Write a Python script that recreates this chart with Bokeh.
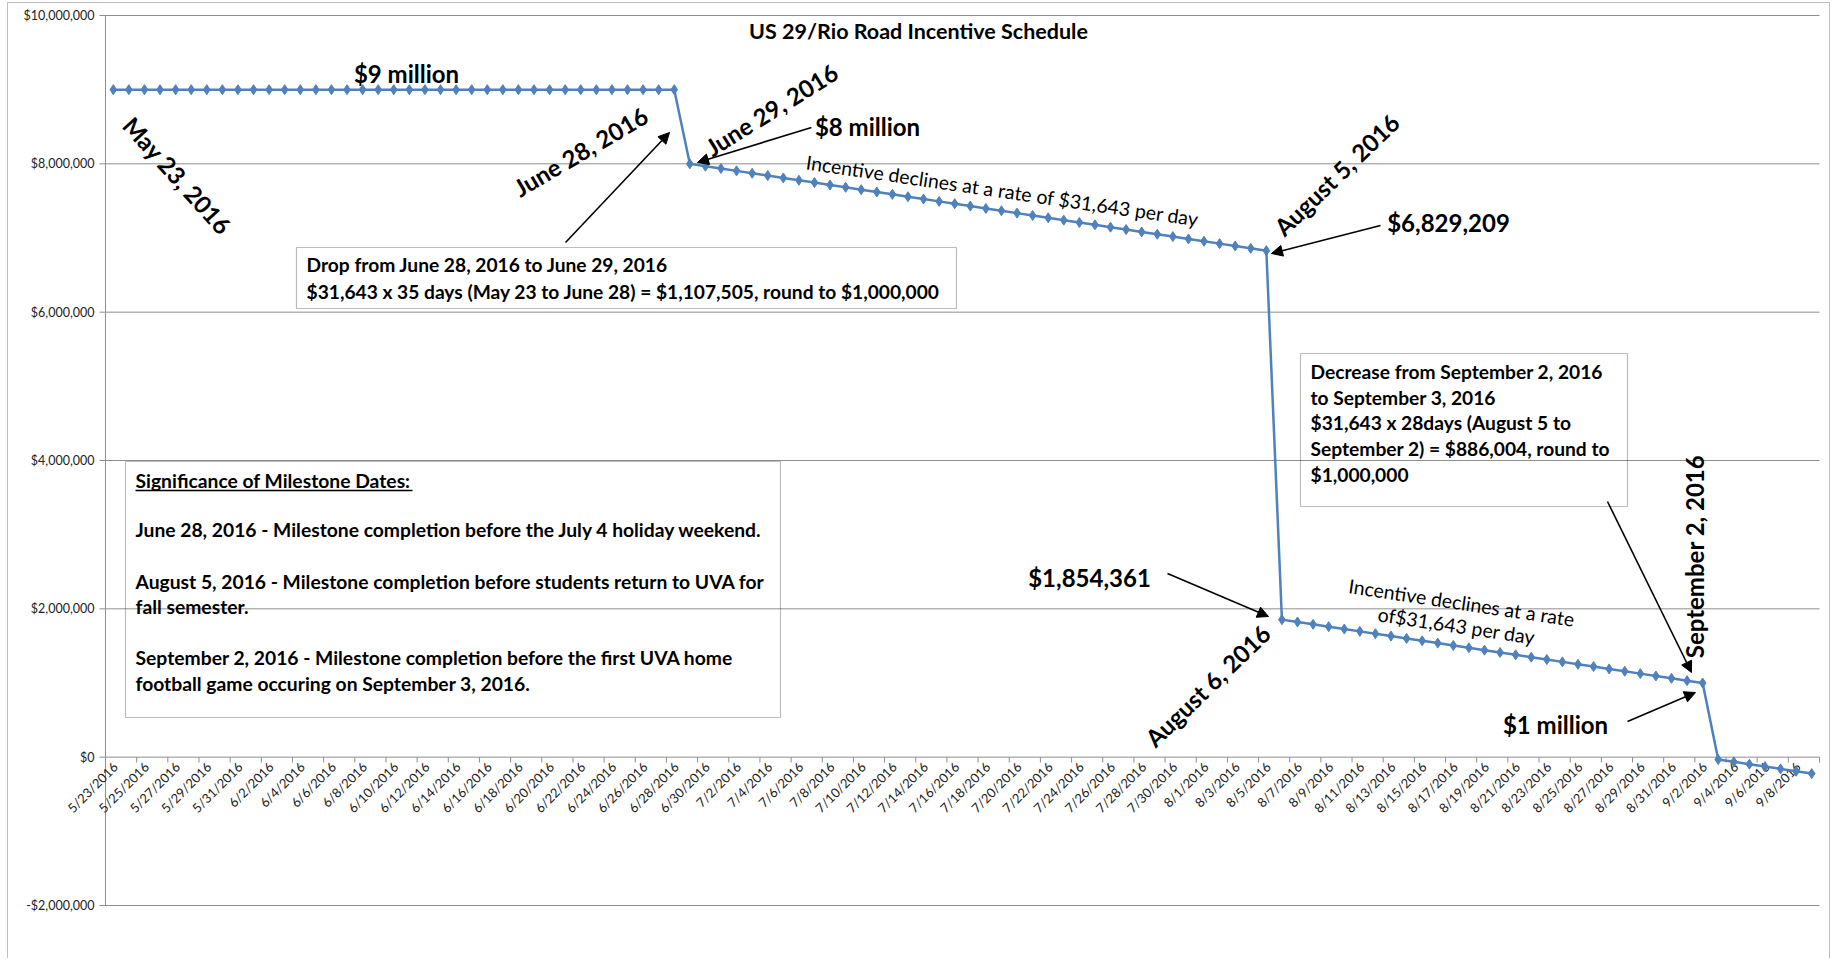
import math
from bokeh.plotting import figure
from bokeh.models import Range1d, Label, Arrow, NormalHead, BoxAnnotation
from bokeh.core.properties import value
from bokeh.embed import file_html
from bokeh.resources import INLINE

# ---------------- data ----------------
dates = [
    "5/23/2016", "5/24/2016", "5/25/2016", "5/26/2016", "5/27/2016", "5/28/2016", "5/29/2016",
    "5/30/2016", "5/31/2016", "6/1/2016", "6/2/2016", "6/3/2016", "6/4/2016", "6/5/2016",
    "6/6/2016", "6/7/2016", "6/8/2016", "6/9/2016", "6/10/2016", "6/11/2016", "6/12/2016",
    "6/13/2016", "6/14/2016", "6/15/2016", "6/16/2016", "6/17/2016", "6/18/2016", "6/19/2016",
    "6/20/2016", "6/21/2016", "6/22/2016", "6/23/2016", "6/24/2016", "6/25/2016", "6/26/2016",
    "6/27/2016", "6/28/2016", "6/29/2016", "6/30/2016", "7/1/2016", "7/2/2016", "7/3/2016",
    "7/4/2016", "7/5/2016", "7/6/2016", "7/7/2016", "7/8/2016", "7/9/2016", "7/10/2016",
    "7/11/2016", "7/12/2016", "7/13/2016", "7/14/2016", "7/15/2016", "7/16/2016", "7/17/2016",
    "7/18/2016", "7/19/2016", "7/20/2016", "7/21/2016", "7/22/2016", "7/23/2016", "7/24/2016",
    "7/25/2016", "7/26/2016", "7/27/2016", "7/28/2016", "7/29/2016", "7/30/2016", "7/31/2016",
    "8/1/2016", "8/2/2016", "8/3/2016", "8/4/2016", "8/5/2016", "8/6/2016", "8/7/2016",
    "8/8/2016", "8/9/2016", "8/10/2016", "8/11/2016", "8/12/2016", "8/13/2016", "8/14/2016",
    "8/15/2016", "8/16/2016", "8/17/2016", "8/18/2016", "8/19/2016", "8/20/2016", "8/21/2016",
    "8/22/2016", "8/23/2016", "8/24/2016", "8/25/2016", "8/26/2016", "8/27/2016", "8/28/2016",
    "8/29/2016", "8/30/2016", "8/31/2016", "9/1/2016", "9/2/2016", "9/3/2016", "9/4/2016",
    "9/5/2016", "9/6/2016", "9/7/2016", "9/8/2016", "9/9/2016",
]

incentive = [
    # 5/23 - 6/28
    9000000, 9000000, 9000000, 9000000, 9000000, 9000000, 9000000, 9000000, 9000000, 9000000,
    9000000, 9000000, 9000000, 9000000, 9000000, 9000000, 9000000, 9000000, 9000000, 9000000,
    9000000, 9000000, 9000000, 9000000, 9000000, 9000000, 9000000, 9000000, 9000000, 9000000,
    9000000, 9000000, 9000000, 9000000, 9000000, 9000000, 9000000,
    # 6/29 - 8/5
    8000000, 7968357, 7936714, 7905071, 7873428, 7841785, 7810142, 7778499, 7746856, 7715213,
    7683570, 7651927, 7620284, 7588641, 7556998, 7525355, 7493712, 7462069, 7430426, 7398783,
    7367140, 7335497, 7303854, 7272211, 7240568, 7208925, 7177282, 7145639, 7113996, 7082353,
    7050710, 7019067, 6987424, 6955781, 6924138, 6892495, 6860852, 6829209,
    # 8/6 - 9/2
    1854361, 1822718, 1791075, 1759432, 1727789, 1696146, 1664503, 1632860, 1601217, 1569574,
    1537931, 1506288, 1474645, 1443002, 1411359, 1379716, 1348073, 1316430, 1284787, 1253144,
    1221501, 1189858, 1158215, 1126572, 1094929, 1063286, 1031643, 1000000,
    # 9/3 - 9/9
    -31643, -63286, -94929, -126572, -158215, -189858, -221501,
]

y_ticks = [-2000000, 0, 2000000, 4000000, 6000000, 8000000, 10000000]
y_tick_labels = ["-$2,000,000", "$0", "$2,000,000", "$4,000,000", "$6,000,000",
                 "$8,000,000", "$10,000,000"]
tick_labels = dates[::2]

title_text = "US 29/Rio Road Incentive Schedule"
box1_lines = ["Drop from June 28, 2016 to June 29, 2016",
              "$31,643 x 35 days (May 23 to June 28) = $1,107,505, round to $1,000,000"]
box2_heading = "Significance of Milestone Dates:"
box2_lines = ["June 28, 2016 - Milestone completion before the July 4 holiday weekend.",
              "August 5, 2016 - Milestone completion before students return to UVA for",
              "fall semester.",
              "September 2, 2016 - Milestone completion before the first UVA home",
              "football game occuring on September 3, 2016."]
box3_lines = ["Decrease from September 2, 2016",
              "to September 3, 2016",
              "$31,643 x 28days (August 5 to",
              "September 2) = $886,004, round to",
              "$1,000,000"]

# ---------------- layout helpers (page pixel -> data) ----------------
N = len(dates)
AX_L, FT, FW, FH = 105.0, 15.0, 1714.0, 890.0   # plotting area in page px
YMIN, YMAX = -2000000, 10000000
PPX = FW / N
CANVAS_L, CANVAS_T, CANVAS_W, CANVAS_H = 8.0, 3.0, 1823, 956


def X(px):
    return (px - AX_L) / PPX - 0.5


def Y(py):
    return YMAX - (py - FT) / FH * (YMAX - YMIN)


FONT = "Lato"
BLUE = "#4F81BD"
GRID = "#8E8E8E"
TXT = "#222222"

# canvas placed at page (7, 2) with a 1px border, content starts at (8, 3);
# the frame covers the whole canvas so that axis texts are not clipped
p = figure(width=CANVAS_W, height=CANVAS_H, output_backend="svg", toolbar_location=None,
           x_range=Range1d(X(CANVAS_L), X(CANVAS_L + CANVAS_W)),
           y_range=Range1d(Y(CANVAS_T + CANVAS_H), Y(CANVAS_T)),
           x_axis_type=None, y_axis_type=None, min_border_left=0, min_border_right=0,
           min_border_top=0, min_border_bottom=0)
p.outline_line_color = None
p.background_fill_color = "white"
p.border_fill_color = "white"
p.xgrid.visible = False
p.ygrid.visible = False
p.styles = {"margin-left": "7px", "margin-top": "2px",
            "border-left": "1px solid #BFBFBF", "border-top": "1px solid #BFBFBF",
            "border-right": "1px solid #BFBFBF"}

# value axis: gridlines, tick marks, axis line, labels
nt = len(y_ticks)
p.segment(x0=[X(AX_L - 6)] * nt, y0=y_ticks, x1=[N - 0.5] * nt, y1=y_ticks,
          line_color=GRID, line_width=1)
p.segment(x0=[-0.5], y0=[YMIN], x1=[-0.5], y1=[YMAX], line_color=GRID, line_width=1)
p.text(x=[X(AX_L - 11)] * nt, y=y_ticks, text=y_tick_labels, text_align="right",
       text_baseline="middle", text_font=value(FONT), text_font_size="12.5px",
       text_color=TXT)

# category axis along the zero line: tick marks and rotated labels
tick_x = [k - 0.5 for k in range(0, N + 1, 2)]
p.segment(x0=tick_x, y0=[0] * len(tick_x), x1=tick_x, y1=[Y(762)] * len(tick_x),
          line_color=GRID, line_width=1)
p.text(x=[2 * k + 2 / PPX for k in range(len(tick_labels))], y=[Y(764)] * len(tick_labels),
       text=tick_labels, angle=math.pi / 4, text_align="right", text_baseline="middle",
       text_font=value(FONT), text_font_size="13px", text_color=TXT)

# series
xs = list(range(N))
p.line(xs, incentive, line_color=BLUE, line_width=2.5)
p.scatter(xs, incentive, marker="diamond", size=10, fill_color=BLUE, line_color=BLUE)


def label(text, px, py, size, angle_deg=0.0, bold=True, align="center"):
    p.add_layout(Label(x=X(px), y=Y(py), text=text, angle=math.radians(angle_deg),
                       text_font=FONT, text_font_size=f"{size}px",
                       text_font_style="bold" if bold else "normal",
                       text_align=align, text_baseline="middle", text_color="black"))


def arrow(x0, y0, x1, y1):
    p.add_layout(Arrow(x_start=X(x0), y_start=Y(y0), x_end=X(x1), y_end=Y(y1),
                       line_color="black", line_width=1.6,
                       end=NormalHead(size=11, fill_color="black", line_color="black")))


def box(l, t, r, b):
    p.add_layout(BoxAnnotation(left=X(l), right=X(r), top=Y(t), bottom=Y(b),
                               fill_alpha=0, line_color=TXT, line_width=1.2))


# title
label(title_text, 918, 30, 21.5)

# big labels
label("$9 million", 406, 73, 24)
label("$8 million", 867, 126, 24)
label("$6,829,209", 1448, 222, 24)
label("$1,854,361", 1089, 577, 24)
label("$1 million", 1555, 724, 24)
label("May 23, 2016", 177, 175, 24, -48)
label("June 28, 2016", 580, 151, 24, 30.5)
label("June 29, 2016", 771, 109, 24, 32)
label("August 5, 2016", 1336, 174, 24, 44)
label("August 6, 2016", 1207, 685, 24, 44)
label("September 2, 2016", 1694, 556, 24, 90)

# rate labels
label("Incentive declines at a rate of $31,643 per day", 1002, 190, 19.5, -8.3, bold=False)
label("Incentive declines at a rate", 1461, 602, 19.5, -8.5, bold=False)
label("of$31,643 per day", 1456, 625, 19.5, -8.5, bold=False)

# box 1
box(296, 247, 956, 308)
for txt, cy in zip(box1_lines, [264, 291]):
    label(txt, 306, cy, 19.2, align="left")

# box 2
box(125, 461, 780, 717)
label(box2_heading, 135, 480, 19.3, align="left")
p.segment(x0=[X(135)], y0=[Y(490)], x1=[X(412)], y1=[Y(490)], line_color="black", line_width=1.3)
for txt, cy in zip(box2_lines, [529, 581, 606, 657, 683]):
    label(txt, 135, cy, 19.3, align="left")

# box 3
box(1300, 353, 1627, 506)
for txt, cy in zip(box3_lines, [371, 396.5, 422, 448, 474]):
    label(txt, 1310, cy, 19.2, align="left")

# arrows
arrow(565, 242, 669, 132)
arrow(811, 127, 697, 162)
arrow(1380, 225, 1271, 253)
arrow(1167, 573, 1268, 616)
arrow(1607, 501, 1691, 672)
arrow(1627, 721, 1695, 692)

open("out.html", "w").write(file_html(p, INLINE))
